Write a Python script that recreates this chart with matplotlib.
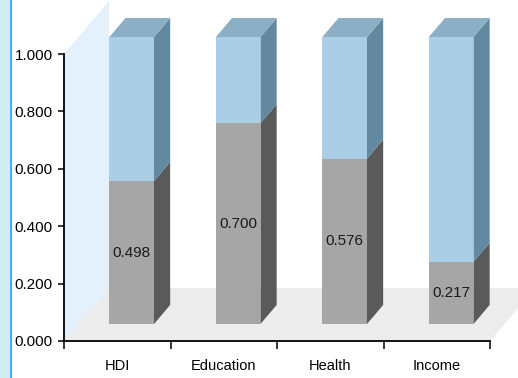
import matplotlib
matplotlib.use("Agg")
import matplotlib.pyplot as plt
from matplotlib.patches import Polygon, Rectangle

categories = ["HDI", "Education", "Health", "Income"]
values = [0.498, 0.700, 0.576, 0.217]
totals = [1.0, 1.0, 1.0, 1.0]
yticks = [0.0, 0.2, 0.4, 0.6, 0.8, 1.0]
ytick_labels = ["0.000", "0.200", "0.400", "0.600", "0.800", "1.000"]

plt.rcParams['font.family'] = ["Liberation Sans", "DejaVu Sans"]

W, H = 518, 378
fig = plt.figure(figsize=(W / 100, H / 100), dpi=100)
ax = fig.add_axes([64 / W, (H - 341) / H, (490 - 64) / W, (341 - 54) / H])
ax.set_xlim(-0.5, 3.5)
ax.set_ylim(0, 1)

DX = 45 / 106.5   # depth shift in x data units
DY = 53 / 287     # depth shift in y data units

def P(x, y, z):
    return (x + z * DX, y + z * DY)

def poly(pts, color, zo):
    ax.add_patch(Polygon(pts, closed=True, facecolor=color, edgecolor='none',
                         zorder=zo, clip_on=False))

# floor and wall
poly([P(-0.5, 0, 0), P(3.5, 0, 0), P(3.5, 0, 1), P(-0.5, 0, 1)], "#ececec", 0.5)
poly([P(-0.5, 0, 0), P(-0.5, 1, 0), P(-0.5, 1, 1), P(-0.5, 0, 1)], "#e2f1fb", 0.6)

w = 0.419
z0, z1 = 0.32, 0.68
front_c = ["#a6a6a6", "#aacee6"]
side_c = ["#5a5a5a", "#6389a1"]
top_c = "#8cafc6"
for i, (v, t) in enumerate(zip(values, totals)):
    x0, x1 = i - w / 2, i + w / 2
    segs = [(0, v), (v, t)]
    for k, (a, b) in enumerate(segs):
        poly([P(x0, a, z0), P(x1, a, z0), P(x1, b, z0), P(x0, b, z0)], front_c[k], 3)
        poly([P(x1, a, z0), P(x1, a, z1), P(x1, b, z1), P(x1, b, z0)], side_c[k], 3)
    poly([P(x0, t, z0), P(x1, t, z0), P(x1, t, z1), P(x0, t, z1)], top_c, 3)
    lx, ly = P(i, v / 2, z0)
    ax.text(lx, ly, f"{v:.3f}", ha='center', va='center', fontsize=11,
            color='#1a1a1a', zorder=5)

for s in ["top", "right"]:
    ax.spines[s].set_visible(False)
for s in ["left", "bottom"]:
    ax.spines[s].set_linewidth(1.3)
    ax.spines[s].set_zorder(4)

ax.set_yticks(yticks)
ax.set_yticklabels(ytick_labels, fontsize=11)
ax.tick_params(axis='y', direction='out', length=4.5, width=1.1, pad=3.5)

ax.set_xticks([-0.5, 0.5, 1.5, 2.5, 3.5])
ax.set_xticklabels([""] * 5)
ax.tick_params(axis='x', which='major', direction='out', length=6, width=1.1)
ax.set_xticks([0, 1, 2, 3], minor=True)
ax.set_xticklabels(categories, minor=True, fontsize=10.5)
ax.tick_params(axis='x', which='minor', length=0, pad=13)
ax.set_facecolor('none')

# left decoration strip
fig.patches.append(Rectangle((0, 0), 9.5 / W, 1, transform=fig.transFigure,
                             facecolor="#d2eef3", edgecolor='none', zorder=0))
fig.patches.append(Rectangle((9.5 / W, 0), 2 / W, 1, transform=fig.transFigure,
                             facecolor="#33b9ee", edgecolor='none', zorder=0))

fig.savefig("out.png", dpi=100)
